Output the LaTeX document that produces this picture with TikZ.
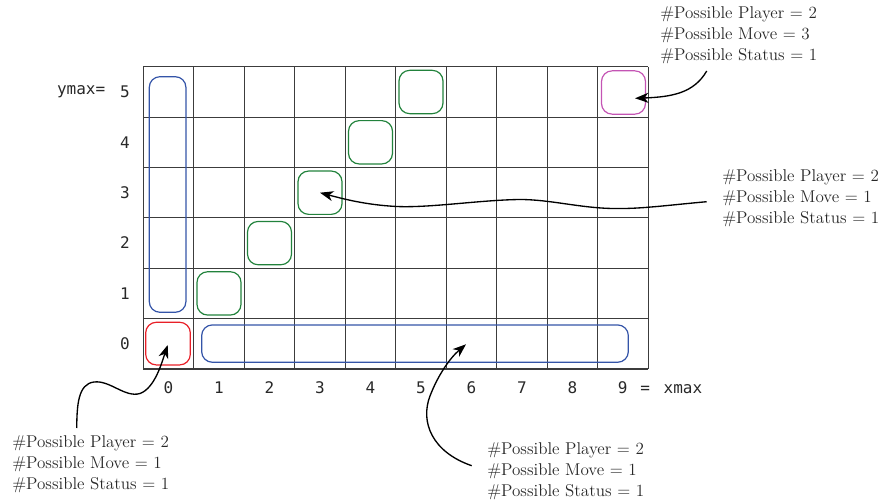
\documentclass[tikz,border=0pt]{standalone}
\usepackage{fontspec}
\newfontfamily\gridmono{DejaVu Sans Mono}
\usetikzlibrary{arrows.meta}
\definecolor{boxblue}{RGB}{52,84,168}
\definecolor{boxgreen}{RGB}{34,130,60}
\definecolor{boxred}{RGB}{232,32,40}
\definecolor{boxmagenta}{RGB}{196,84,180}
\definecolor{gridcol}{RGB}{60,60,60}
\definecolor{textcol}{RGB}{40,40,40}
\tikzset{
  gridline/.style={draw=gridcol, line width=0.8pt},
  cellbox/.style={draw, line width=0.9pt, rounded corners=8pt, inner sep=0pt,
                  minimum width=33pt, minimum height=32.5pt},
  axislabel/.style={font=\gridmono\fontsize{12}{14}\selectfont, inner sep=0pt,
                    text=textcol},
  countlabel/.style={font=\fontsize{12.8}{15.6}\selectfont, align=left,
                     anchor=north west, inner sep=0pt, text=textcol},
  pointer/.style={draw=black, line width=1pt,
                  -{Stealth[length=10pt, width=7.5pt, inset=3pt]}},
}
\begin{document}
\begin{tikzpicture}[x=0.75pt, y=-0.75pt]
\useasboundingbox (0,0) rectangle (886,502);

% the 10 x 6 grid
\foreach \i in {0,...,10}
  \draw[gridline] (143.3+50.5*\i, 66.8) -- (143.3+50.5*\i, 369);
\foreach \j in {0,...,6}
  \draw[gridline] (143.3, 369-50.37*\j) -- (648.3, 369-50.37*\j);

% column labels
\foreach \i in {0,...,8}
  \node[axislabel] (col\i) at (168.5+50.5*\i, 388) {\i};
\node[axislabel, anchor=west] (col9) at (617.5, 388) {9\hspace{2.5pt} = \hspace{3pt}xmax};

% row labels
\foreach \j in {0,...,5}
  \node[axislabel] (row\j) at (125, 343.8-50.37*\j) {\j};
\node[axislabel, anchor=east] (ymax) at (105.5, 92) {ymax=};

% highlighted cells
\node[cellbox, draw=boxgreen]   (g1) at (219,   293.4) {};
\node[cellbox, draw=boxgreen]   (g2) at (269.5, 243.1) {};
\node[cellbox, draw=boxgreen]   (g3) at (320,   192.7) {};
\node[cellbox, draw=boxgreen]   (g4) at (370.5, 142.3) {};
\node[cellbox, draw=boxgreen]   (g5) at (421,    92.0) {};
\node[cellbox, draw=boxmagenta] (m9) at (623.5,  92.5) {};
\node[cellbox, draw=boxred, minimum width=33.5pt, minimum height=32pt]
     (origin) at (168, 343.6) {};
\node[cellbox, draw=boxblue, minimum width=27.5pt, minimum height=176.7pt]
     (ycol) at (167.6, 194.5) {};
\node[cellbox, draw=boxblue, minimum width=320pt, minimum height=28pt]
     (xrow) at (415, 343.6) {};

% counts
\node[countlabel] (ctop) at (660, 6.5)   {\#Possible Player = 2\\\#Possible Move = 3\\\#Possible Status = 1};
\node[countlabel] (cmid) at (722, 169.5) {\#Possible Player = 2\\\#Possible Move = 1\\\#Possible Status = 1};
\node[countlabel] (cleft) at (12, 435.5) {\#Possible Player = 2\\\#Possible Move = 1\\\#Possible Status = 1};
\node[countlabel] (cbot) at (487, 442.5) {\#Possible Player = 2\\\#Possible Move = 1\\\#Possible Status = 1};

% pointers from the counts to the cells
\coordinate (ptop)  at (706.7, 71);
\coordinate (pmid)  at (706.7, 201.7);
\coordinate (pleft) at (76.7, 428);
\coordinate (pbot)  at (471.7, 465.7);
\coordinate (tipm9) at (635, 98.3);
\coordinate (tipxr) at (466, 344.3);

\draw[pointer] (ptop) .. controls (694,93) and (672,97) .. (tipm9);
\draw[pointer] (pmid) .. controls (660,206) and (640,209) .. (613,208.5)
  .. controls (580,208) and (550,199.5) .. (520,199.5)
  .. controls (480,200) and (430,208) .. (397,206.5)
  .. controls (365,205) and (340,198) .. (g3.center);
\draw[pointer] (pleft) .. controls (77,405) and (78,384) .. (94,382)
  .. controls (110,380) and (125,398) .. (140,393.5)
  .. controls (155,388) and (162,362) .. (167.7,345);
\draw[pointer] (pbot) .. controls (432,452) and (420,422) .. (430,396)
  .. controls (438,375) and (450,358) .. (tipxr);
\end{tikzpicture}
\end{document}
